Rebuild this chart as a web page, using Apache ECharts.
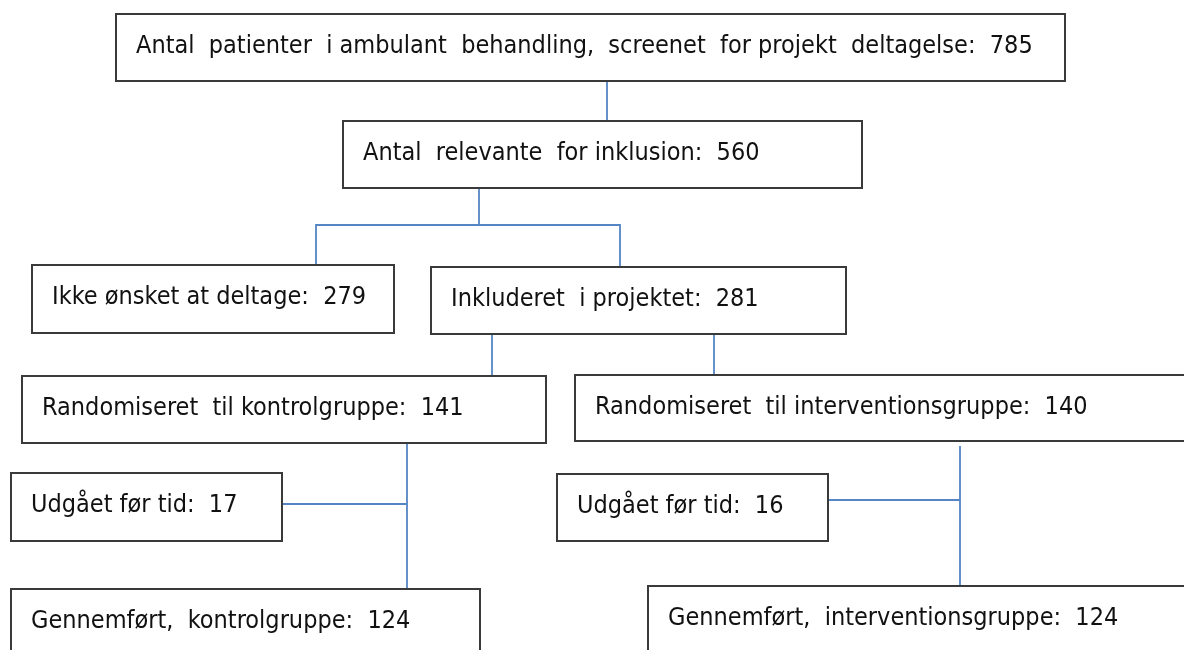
<!DOCTYPE html>
<html>
<head>
<meta charset="utf-8">
<script src="https://cdn.jsdelivr.net/npm/echarts@6/dist/echarts.min.js"></script>
<style>
html,body{margin:0;padding:0;background:#fff;}
#chart{width:1184px;height:650px;}
</style>
</head>
<body>
<div id="chart"></div>
<script>
// ---- Data ----
const nodeLabels = [
  'Antal  patienter  i ambulant  behandling,  screenet  for projekt  deltagelse:',
  'Antal  relevante  for inklusion:',
  'Ikke ønsket at deltage:',
  'Inkluderet  i projektet:',
  'Randomiseret  til kontrolgruppe:',
  'Randomiseret  til interventionsgruppe:',
  'Udgået før tid:',
  'Udgået før tid:',
  'Gennemført,  kontrolgruppe:',
  'Gennemført,  interventionsgruppe:'
];
const nodeCounts = [785, 560, 279, 281, 141, 140, 17, 16, 124, 124];
const edges = [[0,1],[1,2],[1,3],[3,4],[3,5],[4,6],[4,8],[5,7],[5,9]];

// ---- Layout (pixel space of the hidden axes) ----
const boxLayout = [
  [116, 14, 1065, 81],
  [343, 121, 862, 188],
  [32, 265, 394, 333],
  [431, 267, 846, 334],
  [22, 376, 546, 443],
  [575, 375, 1195, 441],
  [11, 473, 282, 541],
  [557, 474, 828, 541],
  [11, 589, 480, 665],
  [648, 586, 1195, 665]
];
const connectorPaths = [
  [[607, 81], [607, 121]],
  [[479, 188], [479, 225], [316, 225], [316, 266]],
  [[479, 225], [620, 225], [620, 267]],
  [[492, 334], [492, 376]],
  [[714, 334], [714, 378]],
  [[407, 504], [282, 504]],
  [[407, 443], [407, 590]],
  [[960, 500], [828, 500]],
  [[960, 446], [960, 587]]
];

const chart = echarts.init(document.getElementById('chart'), null, {renderer: 'canvas'});
const FONT = '"Liberation Sans Narrow", "DejaVu Sans Condensed", Arial, sans-serif';

const boxData = nodeLabels.map((l, i) => [i]);
const lineData = connectorPaths.map((p, i) => [i]);

chart.setOption({
  animation: false,
  grid: {left: 0, right: 0, top: 0, bottom: 0},
  xAxis: {type: 'value', min: 0, max: 1184, show: false},
  yAxis: {type: 'value', min: 0, max: 650, inverse: true, show: false},
  series: [
    {
      type: 'custom',
      clip: false,
      data: lineData,
      renderItem: function (params, api) {
        const path = connectorPaths[api.value(0)];
        const pts = path.map(p => api.coord(p));
        return {
          type: 'polyline',
          shape: {points: pts},
          style: {stroke: '#5585c4', lineWidth: 1.8, fill: null}
        };
      }
    },
    {
      type: 'custom',
      clip: false,
      data: boxData,
      renderItem: function (params, api) {
        const i = api.value(0);
        const b = boxLayout[i];
        const p0 = api.coord([b[0], b[1]]);
        const p1 = api.coord([b[2], b[3]]);
        return {
          type: 'group',
          children: [
            {
              type: 'rect',
              shape: {x: p0[0], y: p0[1], width: p1[0] - p0[0], height: p1[1] - p0[1]},
              style: {fill: '#ffffff', stroke: '#3a3a3a', lineWidth: 2}
            },
            {
              type: 'text',
              style: {
                text: nodeLabels[i] + '  ' + nodeCounts[i],
                x: p0[0] + 20,
                y: p0[1] + 32,
                verticalAlign: 'middle',
                align: 'left',
                font: '25px ' + FONT,
                fill: '#111111'
              }
            }
          ]
        };
      }
    }
  ]
});
</script>
</body>
</html>
